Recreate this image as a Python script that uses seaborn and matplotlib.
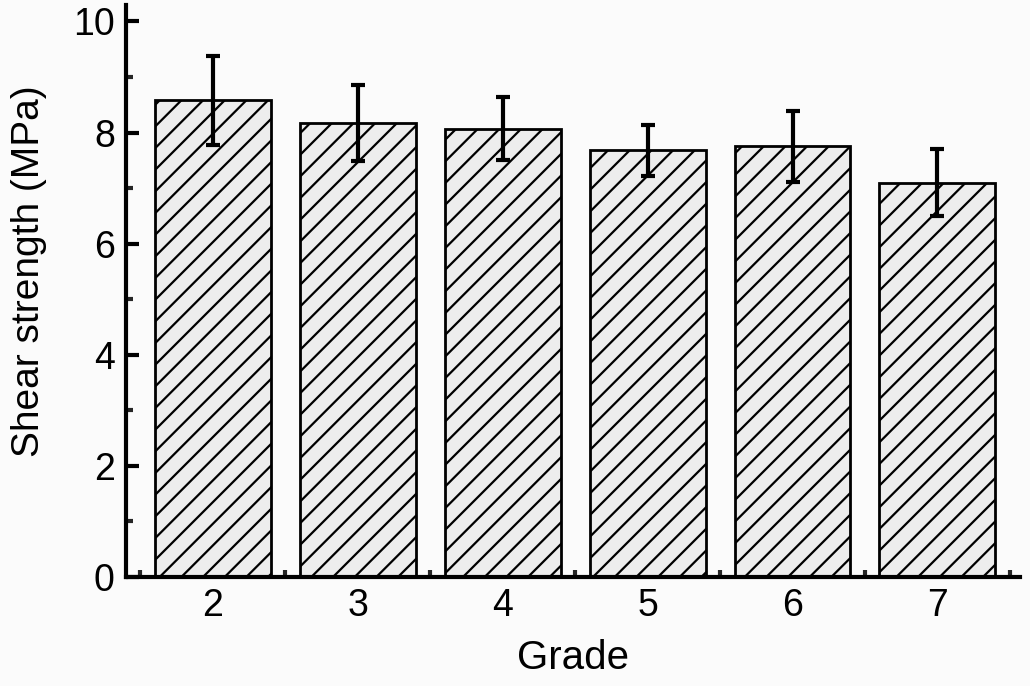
import numpy as np
import pandas as pd
import seaborn as sns
import matplotlib.pyplot as plt
from matplotlib.ticker import MultipleLocator, FixedLocator

grades = ['2', '3', '4', '5', '6', '7']
strength = [8.58, 8.17, 8.07, 7.68, 7.75, 7.10]
strength_err = [0.80, 0.68, 0.57, 0.46, 0.64, 0.61]

# render at 130 dpi so the hatch spacing matches; k converts px-ish sizes to points
DPI = 130
k = 100 / DPI

sns.set_style('ticks')
plt.rcParams['font.family'] = ['Liberation Sans', 'DejaVu Sans']
plt.rcParams['hatch.linewidth'] = 1.6 * k
plt.rcParams['hatch.color'] = 'black'

df = pd.DataFrame({'Grade': grades, 'Strength': strength})

fig = plt.figure(figsize=(1030 / DPI, 686 / DPI), dpi=DPI, facecolor='#fbfbfb')
ax = fig.add_axes([0.1223, 0.159, 0.868, 0.834])
ax.set_facecolor('#fbfbfb')

sns.barplot(data=df, x='Grade', y='Strength', color='#ededed', width=0.8,
            edgecolor='black', linewidth=2 * k, hatch='//', saturation=1,
            errorbar=None, ax=ax)
xpos = np.arange(len(grades))
ax.errorbar(xpos, strength, yerr=strength_err, fmt='none', ecolor='black',
            elinewidth=3 * k, capsize=5 * k, capthick=3 * k, zorder=5)

ax.set_xlim(-0.6, 5.57)
ax.set_ylim(0, 10.3)
ax.yaxis.set_major_locator(MultipleLocator(2))
ax.yaxis.set_minor_locator(MultipleLocator(1))
ax.xaxis.set_minor_locator(FixedLocator(list(xpos - 0.5) + [xpos[-1] + 0.5]))

for s in ['top', 'right']:
    ax.spines[s].set_visible(False)
for s in ['left', 'bottom']:
    ax.spines[s].set_linewidth(3 * k)
    ax.spines[s].set_color('black')

ax.tick_params(which='major', direction='in', length=9 * k, width=3 * k,
               labelsize=27 * k, colors='black', pad=8 * k)
ax.tick_params(which='minor', direction='in', length=5 * k, width=3 * k)

ax.set_xlabel('Grade', fontsize=29 * k, labelpad=11 * k, color='black')
ax.set_ylabel('Shear strength (MPa)', fontsize=28 * k, color='black')
ax.yaxis.set_label_coords(-0.088, 0.535)

fig.savefig('out.png', dpi=DPI, facecolor=fig.get_facecolor())
